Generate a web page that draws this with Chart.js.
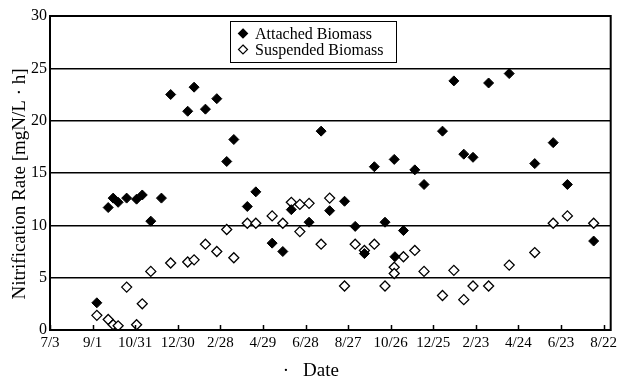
<!DOCTYPE html>
<html>
<head>
<meta charset="utf-8">
<script src="https://cdn.jsdelivr.net/npm/chart.js@4"></script>
<style>
  body { margin: 0; background: #fff; }
  canvas { display: block; }
</style>
</head>
<body>
<canvas id="chart" width="617" height="380"></canvas>
<script>
// days counted from 7/3 (first tick), ticks every 60 days
const tickDays = [0, 60, 120, 180, 240, 300, 360, 420, 480, 540, 600, 660, 720, 780];
const tickLabels = ['7/3', '9/1', '10/31', '12/30', '2/28', '4/29', '6/28', '8/27', '10/26', '12/25', '2/23', '4/24', '6/23', '8/22'];

const attachedDay = [66, 82, 89, 96, 108, 122, 130, 142, 157, 170, 194, 203, 219, 235, 249, 259, 278, 290, 313, 328,
    340, 365, 382, 394, 415, 430, 443, 457, 472, 485, 486, 498, 514, 527, 553, 569, 583, 596, 618, 647, 683, 709, 729, 766];
const attachedRate = [2.6, 11.7, 12.6, 12.2, 12.6, 12.5, 12.9, 10.4, 12.6, 22.5, 20.9, 23.2, 21.1, 22.1, 16.1, 18.2, 11.8, 13.2, 8.3, 7.5,
    11.5, 10.3, 19.0, 11.4, 12.3, 9.9, 7.3, 15.6, 10.3, 16.3, 7.0, 9.5, 15.3, 13.9, 19.0, 23.8, 16.8, 16.5, 23.6, 24.5, 15.9, 17.9, 13.9, 8.5];

const suspendedDay = [66, 82, 89, 96, 108, 122, 130, 142, 170, 194, 203, 219, 235, 249, 259, 278, 290, 313, 328, 340,
    352, 352, 365, 382, 394, 415, 430, 443, 457, 472, 485, 485, 498, 514, 527, 553, 569, 583, 596, 618, 647, 683, 709, 729, 766];
const suspendedRate = [1.4, 1.0, 0.5, 0.4, 4.1, 0.5, 2.5, 5.6, 6.4, 6.5, 6.7, 8.2, 7.5, 9.6, 6.9, 10.2, 10.2, 10.9, 10.2, 12.2,
    12.0, 9.4, 12.1, 8.2, 12.6, 4.2, 8.2, 7.6, 8.2, 4.2, 6.0, 5.4, 7.0, 7.6, 5.6, 3.3, 5.7, 2.9, 4.2, 4.2, 6.2, 7.4, 10.2, 10.9, 10.2];

const seriesNames = ['Attached Biomass', 'Suspended Biomass'];
const yTitle = 'Nitrification Rate [mgN/L \u00b7 h]';
const xTitle = 'Date';

const SERIF = "'Liberation Serif', 'Times New Roman', serif";
Chart.defaults.font.family = SERIF;
Chart.defaults.color = '#000';

const toPoints = (xs, ys) => xs.map((x, i) => ({ x: x, y: ys[i] }));

// frame, inner x ticks, legend box and axis titles
const decor = {
    id: 'decor',
    afterDraw(chart) {
        const { ctx, chartArea: a, scales } = chart;
        ctx.save();
        ctx.strokeStyle = '#000';
        ctx.lineWidth = 1.5;
        ctx.beginPath();
        tickDays.forEach(d => {
            const px = Math.round(scales.x.getPixelForValue(d)) + 0.5;
            ctx.moveTo(px, a.bottom);
            ctx.lineTo(px, a.bottom - 5);
        });
        ctx.stroke();
        ctx.lineWidth = 2;
        ctx.strokeRect(a.left, a.top, a.right - a.left, a.bottom - a.top);

        // legend
        const lx = 230, ly = 21, lw = 166, lh = 41;
        ctx.fillStyle = '#fff';
        ctx.fillRect(lx, ly, lw, lh);
        ctx.lineWidth = 1;
        ctx.strokeRect(lx + 0.5, ly + 0.5, lw, lh);
        ctx.font = '16px ' + SERIF;
        ctx.textBaseline = 'middle';
        ctx.textAlign = 'left';
        chart.data.datasets.forEach((ds, i) => {
            const cy = ly + 12.5 + i * 16;
            const cx = lx + 13;
            const r = 4.5;
            ctx.beginPath();
            ctx.moveTo(cx, cy - r);
            ctx.lineTo(cx + r, cy);
            ctx.lineTo(cx, cy + r);
            ctx.lineTo(cx - r, cy);
            ctx.closePath();
            ctx.fillStyle = ds.backgroundColor;
            ctx.fill();
            ctx.lineWidth = 1.2;
            ctx.strokeStyle = '#000';
            ctx.stroke();
            ctx.fillStyle = '#000';
            ctx.fillText(ds.label, lx + 25, cy + 1);
        });

        // y title
        ctx.font = '19px ' + SERIF;
        ctx.textAlign = 'center';
        ctx.textBaseline = 'middle';
        ctx.translate(20, 184);
        ctx.rotate(-Math.PI / 2);
        ctx.fillText(yTitle, 0, 0);
        ctx.restore();

        // x title with its stray dot
        ctx.save();
        ctx.font = '19px ' + SERIF;
        ctx.fillStyle = '#000';
        ctx.textBaseline = 'alphabetic';
        ctx.textAlign = 'center';
        ctx.fillText('\u00b7', 286, 376);
        ctx.textAlign = 'left';
        ctx.fillText(xTitle, 303, 376);
        ctx.restore();
    }
};

new Chart(document.getElementById('chart'), {
    type: 'scatter',
    data: {
        datasets: [
            {
                label: seriesNames[0],
                data: toPoints(attachedDay, attachedRate),
                pointStyle: 'rectRot',
                radius: 5,
                backgroundColor: '#000',
                borderColor: '#000',
                borderWidth: 1
            },
            {
                label: seriesNames[1],
                data: toPoints(suspendedDay, suspendedRate),
                pointStyle: 'rectRot',
                radius: 5,
                backgroundColor: '#fff',
                borderColor: '#000',
                borderWidth: 1.3
            }
        ]
    },
    options: {
        responsive: false,
        animation: false,
        layout: { padding: { top: 16, right: 5, left: 0, bottom: 0 } },
        plugins: { legend: { display: false }, tooltip: { enabled: false } },
        scales: {
            x: {
                type: 'linear',
                min: 0,
                max: 790,
                afterBuildTicks: s => { s.ticks = tickDays.map(v => ({ value: v })); },
                afterFit: s => { s.height = 50; s.paddingLeft = 0; s.paddingRight = 0; },
                ticks: {
                    font: { size: 15 },
                    padding: 4,
                    maxRotation: 0,
                    autoSkip: false,
                    callback: v => tickLabels[tickDays.indexOf(v)]
                },
                grid: { display: false, drawTicks: false },
                border: { display: true, color: '#000', width: 2 }
            },
            y: {
                min: 0,
                max: 30,
                afterFit: s => { s.width = 50; s.paddingTop = 0; s.paddingBottom = 0; },
                ticks: { stepSize: 5, font: { size: 16 }, padding: 3 },
                grid: { color: '#000', lineWidth: 1.5, drawTicks: false },
                border: { display: true, color: '#000', width: 2 }
            }
        }
    },
    plugins: [decor]
});
</script>
</body>
</html>
